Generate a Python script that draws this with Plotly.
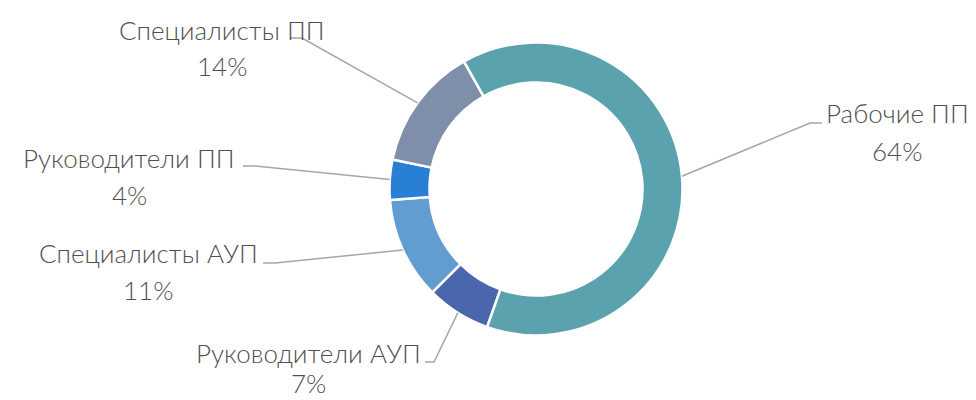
import math
import plotly.graph_objects as go

# ---- data ----
categories = ["Руководители АУП", "Специалисты АУП", "Руководители ПП", "Специалисты ПП", "Рабочие ПП"]
values = [7.1, 11.3, 4.4, 13.6, 63.6]
colors = ["#4A66AC", "#629DD1", "#297FD5", "#7F8FA9", "#5AA2AE"]

# ---- layout constants (pixels) ----
W, H = 976, 400
CX, CY, R = 536, 189, 146.5
HOLE = 0.727
ROT = 199.5  # start angle of first slice, clockwise from 12 o'clock

# label layout: name centre, percent centre, elbow (line start near label), end of horizontal tick
label_layout = {
    "Руководители АУП": dict(name=(308, 353), pct=(308, 383), elbow=(434, 362), tick=(425, 362)),
    "Специалисты АУП": dict(name=(148, 253), pct=(148, 290), elbow=(275, 263), tick=(263, 263)),
    "Руководители ПП": dict(name=(129, 158), pct=(129, 195), elbow=(255, 166), tick=(243, 166)),
    "Специалисты ПП": dict(name=(222, 30), pct=(222, 66), elbow=(302, 38), tick=(290, 38)),
    "Рабочие ПП": dict(name=(897, 113), pct=(897, 151), elbow=(810, 123), tick=(822, 123)),
}

FONT = dict(family="Lato, 'Open Sans', sans-serif", size=26, color="#505050", weight=300)
LINE_COLOR = "#A6A6A6"

fig = go.Figure()
fig.add_trace(go.Pie(
    labels=categories, values=values, sort=False, direction="clockwise",
    rotation=ROT, hole=HOLE, textinfo="none", hoverinfo="label+percent",
    marker=dict(colors=colors, line=dict(color="white", width=2.5)),
    domain=dict(x=[(CX - R) / W, (CX + R) / W], y=[(H - CY - R) / H, (H - CY + R) / H]),
    showlegend=False,
))

total = sum(values)
cum = 0.0
shapes, annotations = [], []
for cat, v in zip(categories, values):
    mid = ROT + (cum + v / 2) / total * 360.0
    cum += v
    a = math.radians(mid)
    px, py = CX + R * math.sin(a), CY - R * math.cos(a)
    lay = label_layout[cat]
    ex, ey = lay["elbow"]
    tx, ty = lay["tick"]
    shapes.append(dict(type="path", xref="x", yref="y",
                       path=f"M {px:.1f} {py:.1f} L {ex} {ey} L {tx} {ty}",
                       line=dict(color=LINE_COLOR, width=1.5)))
    pct = round(v / total * 100)
    annotations.append(dict(x=lay["name"][0], y=lay["name"][1], xref="x", yref="y",
                            text=cat, showarrow=False, font=FONT,
                            xanchor="center", yanchor="middle"))
    annotations.append(dict(x=lay["pct"][0], y=lay["pct"][1], xref="x", yref="y",
                            text=f"{pct}%", showarrow=False, font=FONT,
                            xanchor="center", yanchor="middle"))

fig.update_layout(
    width=W, height=H, margin=dict(l=0, r=0, t=0, b=0),
    paper_bgcolor="white", plot_bgcolor="rgba(0,0,0,0)",
    xaxis=dict(range=[0, W], visible=False, fixedrange=True),
    yaxis=dict(range=[H, 0], visible=False, fixedrange=True),
    shapes=shapes, annotations=annotations,
)

fig.write_html("out.html", config={"displayModeBar": False},
               post_script="document.body.style.margin='0';")
